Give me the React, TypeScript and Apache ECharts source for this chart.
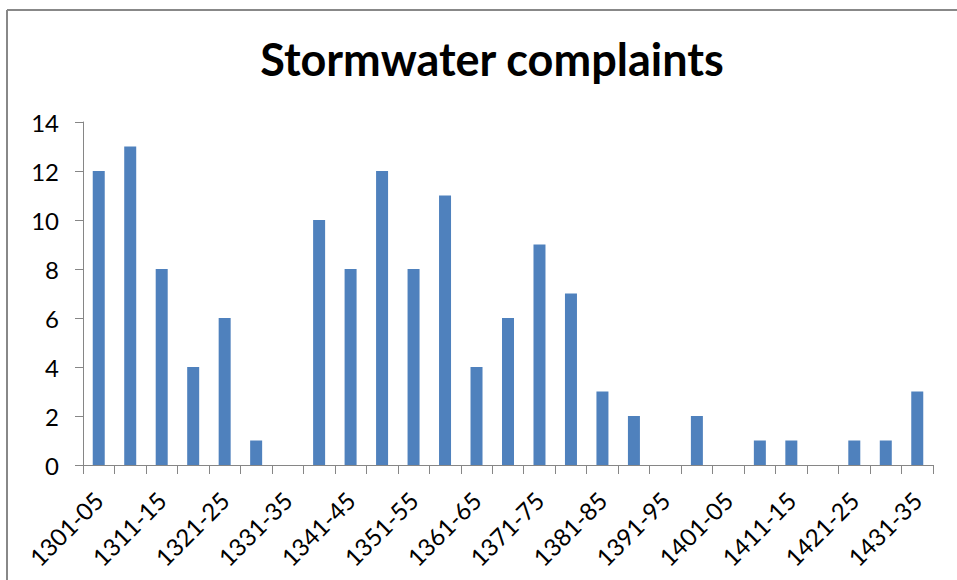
import React, { useEffect, useRef } from "react";
import * as echarts from "echarts";

const categories = [
  "1301-05", "1306-10", "1311-15", "1316-20", "1321-25", "1326-30", "1331-35",
  "1336-40", "1341-45", "1346-50", "1351-55", "1356-60", "1361-65", "1366-70",
  "1371-75", "1376-80", "1381-85", "1386-90", "1391-95", "1396-00", "1401-05",
  "1406-10", "1411-15", "1416-20", "1421-25", "1426-30", "1431-35",
];
const complaints = [
  12, 13, 8, 4, 6, 1, 0,
  10, 8, 12, 8, 11, 4, 6,
  9, 7, 3, 2, 0, 2, 0,
  1, 1, 0, 1, 1, 3,
];
const titleText = "Stormwater complaints";

export default function App() {
  const ref = useRef<HTMLDivElement>(null);
  useEffect(() => {
    if (!ref.current) return;
    const chart = echarts.init(ref.current, null, { renderer: "svg" });
    const font = "Lato, 'Open Sans', sans-serif";
    chart.setOption({
      animation: false,
      backgroundColor: "#ffffff",
      title: {
        text: titleText,
        left: 487,
        top: 31,
        textAlign: "center",
        textStyle: { fontFamily: font, fontWeight: "bold", fontSize: 45, color: "#000" },
      },
      graphic: [
        { type: "line", shape: { x1: 7, y1: 10, x2: 957, y2: 10 }, style: { stroke: "#888", lineWidth: 2 } },
        { type: "line", shape: { x1: 7, y1: 10, x2: 7, y2: 580 }, style: { stroke: "#888", lineWidth: 2 } },
      ],
      grid: { left: 83, right: 24, top: 122, bottom: 115, containLabel: false },
      xAxis: {
        type: "category",
        data: categories,
        boundaryGap: true,
        axisLine: { lineStyle: { color: "#868686", width: 1 } },
        axisTick: { show: true, alignWithLabel: false, interval: 0, length: 9, lineStyle: { color: "#868686" } },
        axisLabel: {
          interval: 1,
          rotate: 45,
          margin: 31,
          fontFamily: font,
          fontSize: 24,
          color: "#000",
        },
      },
      yAxis: {
        type: "value",
        min: 0,
        max: 14,
        interval: 2,
        axisLine: { show: true, lineStyle: { color: "#868686", width: 1 } },
        axisTick: { show: true, length: 8, lineStyle: { color: "#868686" } },
        splitLine: { show: false },
        axisLabel: { margin: 24, fontFamily: font, fontSize: 24, color: "#000" },
      },
      series: [
        {
          type: "bar",
          data: complaints,
          barWidth: 12,
          itemStyle: { color: "#4F81BD" },
        },
      ],
    });
    return () => chart.dispose();
  }, []);
  return (
    <div
      ref={ref}
      style={{ position: "fixed", left: 0, top: 0, width: 957, height: 580 }}
    />
  );
}
